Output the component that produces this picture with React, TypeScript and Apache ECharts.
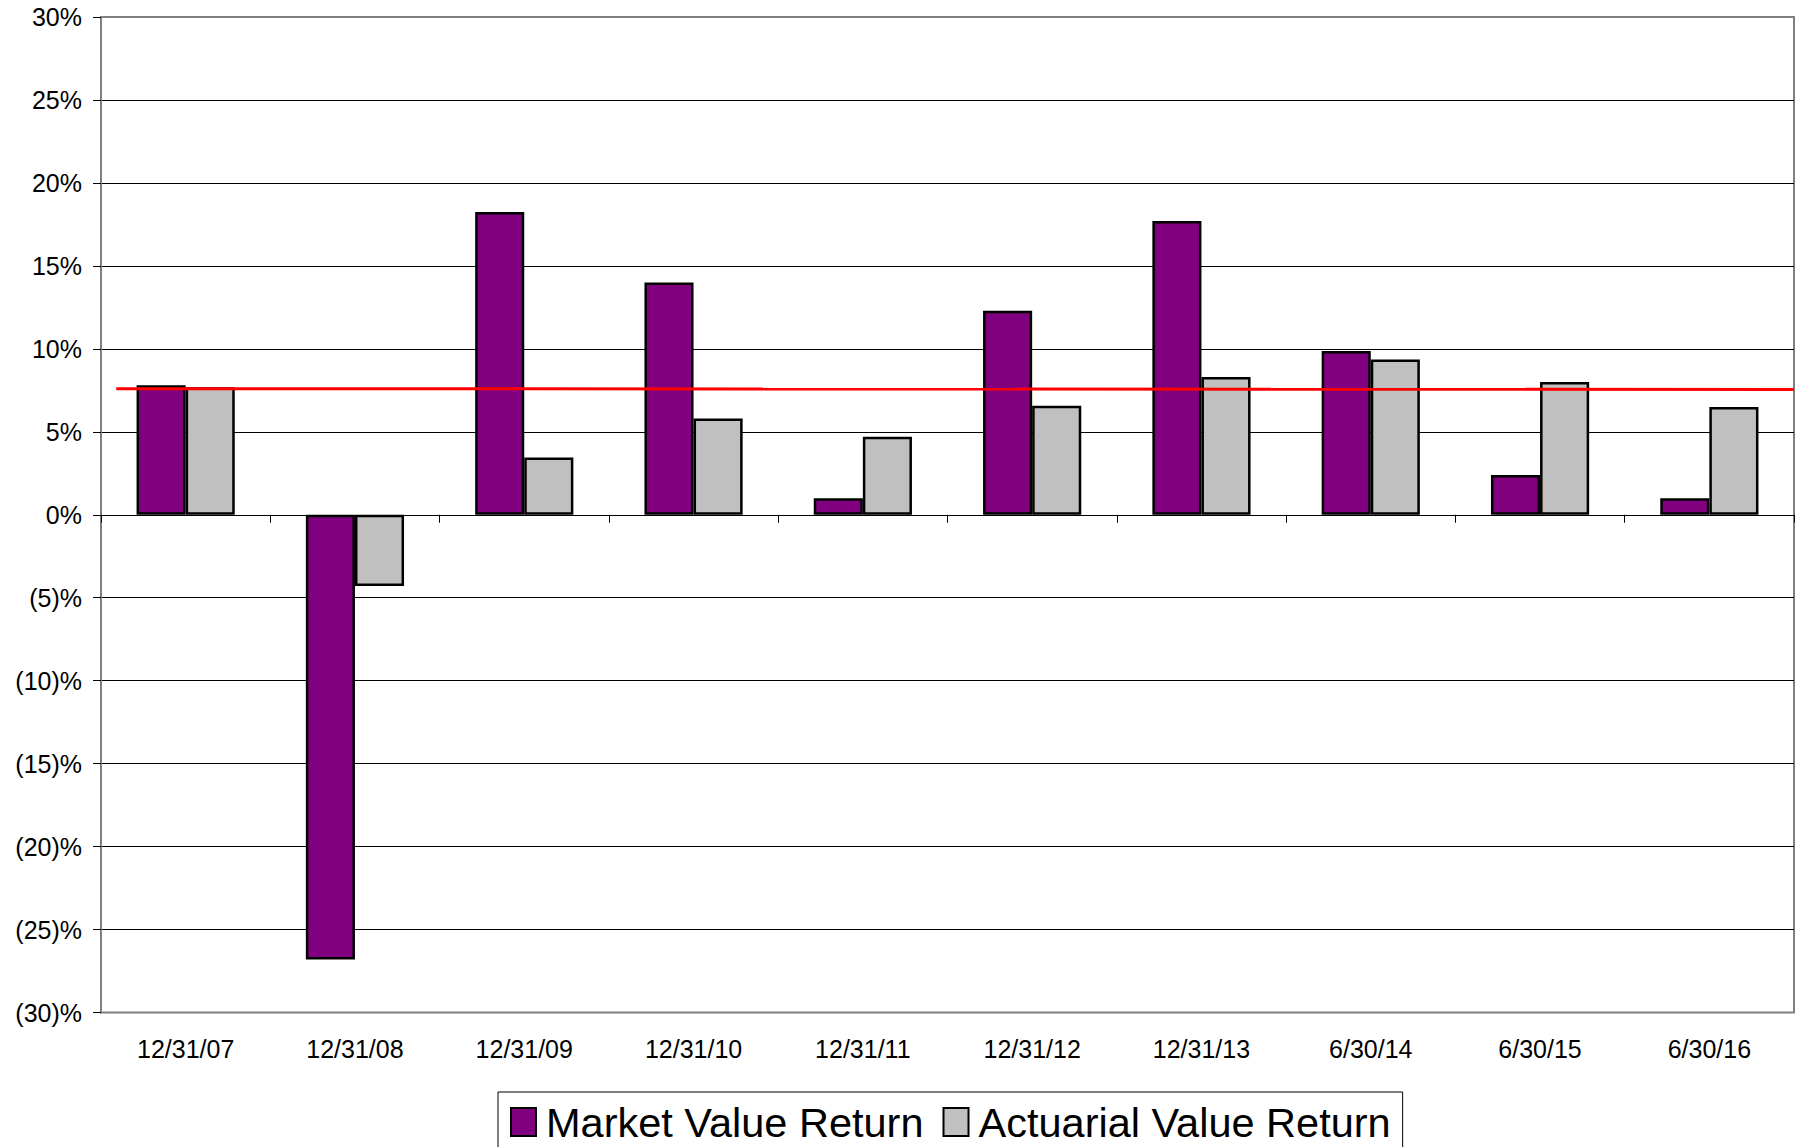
import React, { useEffect, useRef } from "react";
import * as echarts from "echarts";

const categories = ["12/31/07", "12/31/08", "12/31/09", "12/31/10", "12/31/11", "12/31/12", "12/31/13", "6/30/14", "6/30/15", "6/30/16"];
const marketValueReturn = [7.8, -26.8, 18.25, 14.0, 1.0, 12.3, 17.7, 9.87, 2.4, 1.0];
const actuarialValueReturn = [7.68, -4.3, 3.45, 5.8, 4.7, 6.57, 8.3, 9.35, 8.0, 6.5];
const assumedRateX = [0.09, 10];
const assumedRateY = [7.6, 7.55];
const yTicks = { min: -30, max: 30, interval: 5 };

const FONT = "Liberation Sans, Arial, sans-serif";

export default function App() {
  const ref = useRef<HTMLDivElement>(null);
  useEffect(() => {
    if (!ref.current) return;
    const chart = echarts.init(ref.current, null, { renderer: "svg" });
    const splitColors: string[] = [];
    const n = (yTicks.max - yTicks.min) / yTicks.interval + 1;
    for (let i = 0; i < n; i++) splitColors.push(i === 0 || i === n - 1 ? "#808080" : "#000000");
    chart.setOption({
      animation: false,
      backgroundColor: "#ffffff",
      textStyle: { fontFamily: FONT, color: "#000" },
      grid: {
        left: 101,
        right: 6,
        top: 17,
        bottom: 134.5,
        show: true,
        borderColor: "#808080",
        borderWidth: 2,
        backgroundColor: "#ffffff",
      },
      legend: {
        data: ["Market Value Return", "Actuarial Value Return"],
        icon: "rect",
        left: 498,
        top: 1092,
        padding: [9, 12, 12, 12],
        borderColor: "#000",
        borderWidth: 1,
        itemWidth: 25,
        itemHeight: 28,
        itemGap: 19,
        textStyle: { fontSize: 41.5, fontFamily: FONT, color: "#000", padding: [0, 0, 0, 5] },
      },
      xAxis: [
        {
          type: "category",
          data: categories,
          position: "bottom",
          axisLine: { show: false, onZero: false },
          axisTick: { show: false },
          axisLabel: { fontSize: 25, color: "#000", margin: 24, fontFamily: FONT, interval: 0 },
          splitLine: { show: false },
        },
        {
          type: "category",
          data: categories,
          position: "bottom",
          axisLine: { show: true, onZero: true, lineStyle: { color: "#000", width: 1 } },
          axisTick: { show: true, length: 8, lineStyle: { color: "#000" } },
          axisLabel: { show: false },
          splitLine: { show: false },
        },
        {
          type: "value",
          min: 0,
          max: categories.length,
          show: false,
          splitLine: { show: false },
        },
      ],
      yAxis: {
        type: "value",
        min: yTicks.min,
        max: yTicks.max,
        interval: yTicks.interval,
        axisLine: { show: true, lineStyle: { color: "#808080", width: 2 } },
        axisTick: { show: true, length: 8, lineStyle: { color: "#000" } },
        axisLabel: {
          fontSize: 25,
          color: "#000",
          margin: 19,
          fontFamily: FONT,
          formatter: (v: number) => (v < 0 ? `(${Math.abs(v)})%` : `${v}%`),
        },
        splitLine: { show: true, lineStyle: { color: splitColors, width: 1 } },
      },
      series: [
        {
          name: "Market Value Return",
          type: "bar",
          xAxisIndex: 0,
          data: marketValueReturn,
          barGap: "0%",
          barCategoryGap: "42%",
          itemStyle: { color: "#800080", borderColor: "#000", borderWidth: 2.5 },
        },
        {
          name: "Actuarial Value Return",
          type: "bar",
          xAxisIndex: 0,
          data: actuarialValueReturn,
          barGap: "0%",
          barCategoryGap: "42%",
          itemStyle: { color: "#C0C0C0", borderColor: "#000", borderWidth: 2.5 },
        },
        {
          name: "Assumed Rate",
          type: "line",
          xAxisIndex: 2,
          data: assumedRateX.map((x, i) => [x, assumedRateY[i]]),
          showSymbol: false,
          symbol: "none",
          lineStyle: { color: "#FF0000", width: 3 },
          z: 5,
        },
      ],
    });
    return () => chart.dispose();
  }, []);
  return <div ref={ref} style={{ position: "fixed", left: 0, top: 0, width: 1800, height: 1147 }} />;
}
